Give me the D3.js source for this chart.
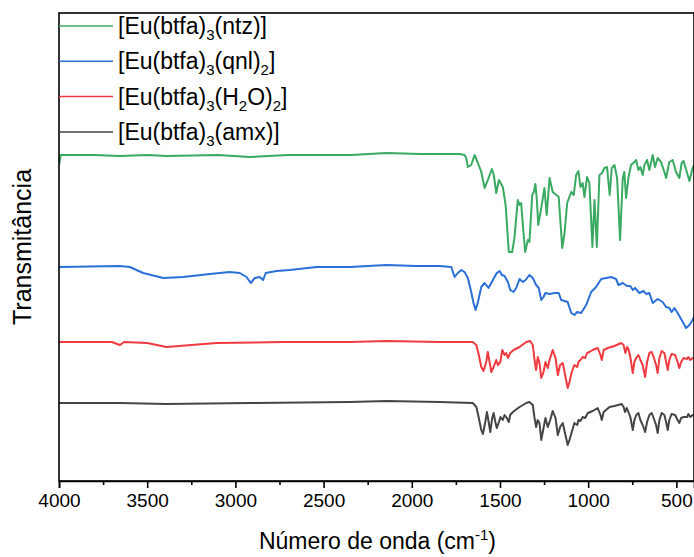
<!DOCTYPE html>
<html>
<head>
<meta charset="utf-8">
<script src="https://cdn.jsdelivr.net/npm/d3@7"></script>
<style>
  body { margin: 0; background: #fff; }
  text { font-family: Arial, "Liberation Sans", sans-serif; }
</style>
</head>
<body>
<div id="my_dataviz"></div>
<script>
// wavenumber (cm-1), transmittance (offset, arbitrary units)
var ntz = [[4000,316],[3990,326],[3800,326],[3655,325],[3500,326],[3390,325],[3100,326],[2918,324],[2700,326],
  [2342,326],[2144,328],[1950,327],[1842,327],[1729,327],[1701,326],[1691,323],[1682,314],[1663,316],[1644,326],
  [1625,318],[1606,309],[1587,293],[1569,301],[1546,312],[1535,306],[1521,288],[1506,301],[1484,294],[1468,276],
  [1450,229],[1431,229],[1418,243],[1399,281],[1389,276],[1380,278],[1367,249],[1357,229],[1342,241],[1333,239],
  [1317,286],[1308,289],[1299,297],[1291,281],[1283,256],[1266,273],[1248,293],[1235,266],[1219,303],[1201,289],
  [1167,284],[1147,233],[1134,248],[1119,278],[1096,289],[1082,286],[1068,306],[1055,310],[1044,294],[1031,298],
  [1021,284],[1006,304],[993,298],[976,234],[964,281],[951,234],[936,306],[921,308],[908,313],[893,314],[878,286],
  [866,313],[851,316],[836,303],[819,241],[804,303],[795,309],[785,283],[772,303],[757,316],[738,319],[728,321],
  [715,311],[704,314],[691,306],[681,316],[666,321],[653,311],[634,326],[621,314],[606,323],[587,319],[568,309],
  [558,303],[540,319],[521,321],[502,309],[483,303],[470,318],[459,320],[439,308],[426,300],[408,313],[400,316]];

var qnl = [[4000,214],[3655,215],[3598,214],[3523,208],[3409,203],[3296,204],[3145,207],[3032,209],[2975,208],
  [2937,204],[2913,198],[2890,203],[2862,204],[2843,201],[2828,208],[2767,210],[2692,211],[2541,214],[2352,214],
  [2144,216],[1974,215],[1842,215],[1776,214],[1757,204],[1739,208],[1719,211],[1701,209],[1682,203],[1663,189],
  [1650,178],[1638,171],[1625,179],[1606,194],[1587,198],[1565,193],[1540,201],[1518,208],[1502,210],[1489,206],
  [1474,205],[1455,199],[1442,191],[1423,189],[1408,193],[1389,202],[1370,199],[1355,201],[1333,206],[1314,203],
  [1295,196],[1280,193],[1266,181],[1253,184],[1242,188],[1219,187],[1191,188],[1167,188],[1153,181],[1134,180],
  [1116,179],[1096,168],[1078,166],[1062,169],[1040,168],[1011,176],[983,189],[955,194],[926,202],[898,203],
  [870,204],[842,202],[828,196],[804,198],[779,195],[761,195],[747,191],[734,193],[710,188],[685,190],[672,187],
  [653,188],[634,178],[606,182],[578,179],[558,174],[540,173],[527,169],[511,173],[493,168],[470,161],[445,153],
  [426,156],[408,161],[400,164]];

var h2o = [[4000,139],[3700,139],[3655,136],[3630,139],[3500,138],[3390,134],[3107,138],[2730,139],[2352,139],
  [2144,140],[1842,139],[1654,139],[1634,136],[1620,126],[1606,114],[1593,110],[1578,119],[1569,129],[1559,119],
  [1549,109],[1536,114],[1521,121],[1512,116],[1498,119],[1487,131],[1474,126],[1465,128],[1455,123],[1442,128],
  [1423,131],[1389,134],[1351,139],[1329,140],[1314,136],[1304,121],[1295,111],[1286,124],[1276,118],[1266,103],
  [1253,109],[1242,119],[1229,113],[1219,121],[1201,131],[1185,123],[1172,106],[1159,116],[1144,118],[1125,101],
  [1116,93],[1106,99],[1093,109],[1078,116],[1062,114],[1055,119],[1044,121],[1031,124],[1017,123],[1006,128],
  [993,129],[974,131],[946,133],[930,126],[923,121],[912,131],[889,133],[851,135],[813,138],[799,136],[789,128],
  [779,134],[770,131],[761,124],[747,108],[738,119],[728,123],[715,126],[704,121],[691,116],[677,104],[666,119],
  [653,128],[640,129],[629,124],[615,116],[606,108],[596,123],[583,130],[568,128],[558,119],[549,111],[540,121],
  [527,127],[507,126],[493,119],[483,113],[473,119],[459,123],[439,122],[432,124],[421,121],[408,123],[400,122]];

var amx = [[4000,78],[3655,78],[3390,77],[2918,78],[2352,79],[2144,80],[1842,79],[1654,78],[1634,74],[1620,63],
  [1606,51],[1597,47],[1583,59],[1574,69],[1563,58],[1555,49],[1544,63],[1536,68],[1525,58],[1518,53],[1506,59],
  [1497,64],[1484,61],[1474,66],[1461,63],[1450,59],[1442,66],[1427,69],[1389,74],[1351,78],[1333,79],[1314,76],
  [1304,63],[1295,54],[1286,61],[1276,58],[1266,41],[1253,53],[1242,63],[1229,54],[1215,61],[1201,70],[1185,63],
  [1172,46],[1159,54],[1144,58],[1125,43],[1116,36],[1106,41],[1093,49],[1078,58],[1062,56],[1055,61],[1044,60],
  [1031,64],[1017,63],[1002,68],[974,70],[946,73],[930,66],[923,61],[912,69],[879,74],[851,75],[810,77],[799,74],
  [791,69],[781,73],[772,69],[761,64],[747,51],[738,61],[727,66],[715,68],[704,61],[691,56],[677,49],[666,59],
  [653,66],[640,68],[629,63],[615,56],[606,48],[596,61],[583,68],[568,66],[558,59],[549,51],[540,61],[527,67],
  [507,66],[493,61],[483,58],[473,63],[459,64],[439,64],[432,67],[421,64],[408,66],[400,65]];

var xTicks = [4000, 3500, 3000, 2500, 2000, 1500, 1000, 500];

var series = [
  { data: ntz, color: "#3aaa63", label: [["[Eu(btfa)"], ["3", 1], ["(ntz)]"]] },
  { data: qnl, color: "#2a70d8", label: [["[Eu(btfa)"], ["3", 1], ["(qnl)"], ["2", 1], ["]"]] },
  { data: h2o, color: "#ef3b40", label: [["[Eu(btfa)"], ["3", 1], ["(H"], ["2", 1], ["O)"], ["2", 1], ["]"]] },
  { data: amx, color: "#454545", label: [["[Eu(btfa)"], ["3", 1], ["(amx)]"]] }
];

var margin = { top: 13, right: 0, bottom: 76, left: 59 },
    width = 635,
    height = 468;

var svg = d3.select("#my_dataviz")
    .append("svg")
    .attr("width", 694)
    .attr("height", 557)
    .append("g")
    .attr("transform", "translate(" + margin.left + "," + margin.top + ")");

var x = d3.scaleLinear().domain([4000, 400]).range([0, width]);
var y = d3.scaleLinear().domain([0, 468]).range([height, 0]);

svg.append("clipPath").attr("id", "clip")
    .append("rect").attr("width", width).attr("height", height);

var line = d3.line()
    .x(function(d) { return x(d[0]); })
    .y(function(d) { return y(d[1]); });

series.forEach(function(s) {
    svg.append("path")
        .datum(s.data)
        .attr("clip-path", "url(#clip)")
        .attr("fill", "none")
        .attr("stroke", s.color)
        .attr("stroke-width", 2)
        .attr("stroke-linejoin", "round")
        .attr("d", line);
});

// frame
svg.append("rect")
    .attr("width", width)
    .attr("height", height)
    .attr("fill", "none")
    .attr("stroke", "#000")
    .attr("stroke-width", 1.6);

// minor ticks
svg.append("g")
    .attr("transform", "translate(0," + height + ")")
    .call(d3.axisBottom(x).tickValues(d3.range(3750, 400, -500)).tickSize(4).tickFormat(""))
    .call(function(g) { g.select(".domain").remove(); })
    .selectAll("line").attr("stroke-width", 1.6);

var xAxis = svg.append("g")
    .attr("transform", "translate(0," + height + ")")
    .call(d3.axisBottom(x).tickValues(xTicks).tickSize(7).tickPadding(6).tickFormat(d3.format("d")));
xAxis.select(".domain").attr("stroke-width", 1.6);
xAxis.selectAll("line").attr("stroke-width", 1.6);
xAxis.selectAll("text")
    .style("font-size", "19px")
    .style("font-family", "Arial, 'Liberation Sans', sans-serif")
    .attr("fill", "#000");

// axis titles
var xt = svg.append("text")
    .attr("x", width / 2 + 1)
    .attr("y", height + 68)
    .attr("text-anchor", "middle")
    .style("font-size", "23px");
xt.append("tspan").text("Número de onda (cm");
xt.append("tspan").attr("dy", -9).style("font-size", "15px").text("-1");
xt.append("tspan").attr("dy", 9).text(")");

svg.append("text")
    .attr("transform", "translate(-28," + (height / 2) + ") rotate(-90)")
    .attr("text-anchor", "middle")
    .style("font-size", "25px")
    .text("Transmitância");

// legend
series.forEach(function(s, i) {
    var ly = 13 + i * 35.3;
    svg.append("line")
        .attr("x1", 0).attr("x2", 54)
        .attr("y1", ly).attr("y2", ly)
        .attr("stroke", s.color)
        .attr("stroke-width", 1.5);
    var t = svg.append("text")
        .attr("x", 59)
        .attr("y", ly + 8)
        .style("font-size", "23px")
        .attr("fill", "#000");
    var down = false;
    s.label.forEach(function(p) {
        var ts = t.append("tspan").text(p[0]);
        if (p[1] && !down) { ts.attr("dy", 6).style("font-size", "15px"); down = true; }
        else if (p[1]) { ts.style("font-size", "15px"); }
        else if (down) { ts.attr("dy", -6); down = false; }
    });
});
</script>
</body>
</html>
